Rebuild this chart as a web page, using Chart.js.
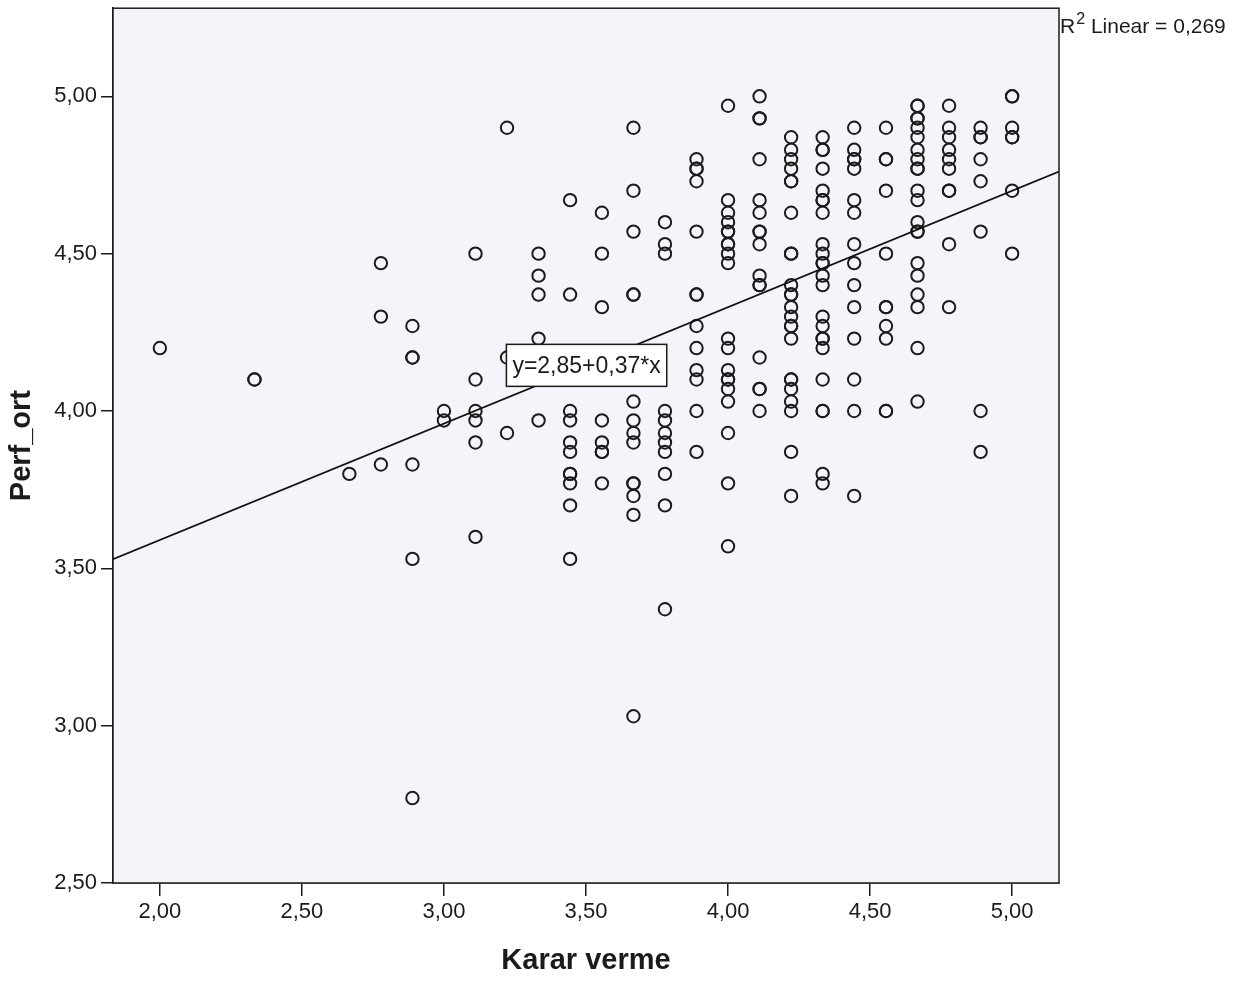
<!DOCTYPE html>
<html>
<head>
<meta charset="utf-8">
<script src="https://cdn.jsdelivr.net/npm/chart.js@4"></script>
<style>
  html, body { margin: 0; padding: 0; background: #fff; }
  #wrap { width: 1248px; height: 981px; }
</style>
</head>
<body>
<div id="wrap"><canvas id="scatter" width="1248" height="981"></canvas></div>
<script>
// Karar verme levels (x) and Perf_ort values (y) read per column
const karar = [2.000, 2.333, 2.667, 2.778, 2.889, 3.000, 3.111, 3.222, 3.333, 3.444, 3.556, 3.667,
               3.778, 3.889, 4.000, 4.111, 4.222, 4.333, 4.444, 4.556, 4.667, 4.778, 4.889, 5.000];
const perf = [
  [4.20],
  [4.10, 4.10],
  [3.80],
  [4.47, 4.30, 3.83],
  [4.27, 4.17, 4.17, 3.83, 3.53, 2.77],
  [4.00, 3.97],
  [4.50, 4.10, 4.00, 3.97, 3.90, 3.60],
  [4.90, 4.17, 3.93],
  [4.50, 4.43, 4.37, 4.23, 3.97],
  [4.67, 4.37, 4.00, 3.97, 3.90, 3.87, 3.80, 3.80, 3.77, 3.70, 3.53],
  [4.63, 4.50, 4.33, 3.97, 3.90, 3.87, 3.87, 3.77],
  [4.90, 4.70, 4.57, 4.37, 4.37, 4.03, 3.97, 3.93, 3.90, 3.77, 3.77, 3.73, 3.67, 3.03],
  [4.60, 4.53, 4.50, 4.00, 3.97, 3.93, 3.90, 3.87, 3.80, 3.70, 3.37],
  [4.80, 4.77, 4.77, 4.73, 4.57, 4.37, 4.37, 4.27, 4.20, 4.13, 4.10, 4.00, 3.87],
  [4.97, 4.67, 4.63, 4.60, 4.57, 4.57, 4.53, 4.53, 4.50, 4.47, 4.23, 4.20, 4.13, 4.10, 4.10, 4.07, 4.03, 3.93, 3.77, 3.57],
  [5.00, 4.93, 4.93, 4.80, 4.67, 4.63, 4.57, 4.57, 4.53, 4.43, 4.40, 4.40, 4.17, 4.07, 4.07, 4.00],
  [4.87, 4.83, 4.80, 4.77, 4.73, 4.73, 4.63, 4.50, 4.50, 4.40, 4.37, 4.37, 4.33, 4.30, 4.27, 4.27, 4.23, 4.10, 4.10, 4.07, 4.03, 4.00, 3.87, 3.73],
  [4.87, 4.83, 4.83, 4.77, 4.70, 4.67, 4.67, 4.63, 4.53, 4.50, 4.47, 4.47, 4.43, 4.40, 4.30, 4.27, 4.23, 4.23, 4.20, 4.10, 4.00, 4.00, 3.80, 3.77],
  [4.90, 4.83, 4.80, 4.80, 4.77, 4.67, 4.63, 4.53, 4.47, 4.40, 4.33, 4.23, 4.10, 4.00, 3.73],
  [4.90, 4.80, 4.80, 4.70, 4.50, 4.33, 4.33, 4.27, 4.23, 4.00, 4.00],
  [4.97, 4.97, 4.93, 4.93, 4.90, 4.87, 4.83, 4.80, 4.77, 4.77, 4.70, 4.67, 4.60, 4.57, 4.57, 4.47, 4.43, 4.37, 4.33, 4.20, 4.03],
  [4.97, 4.90, 4.87, 4.83, 4.80, 4.77, 4.70, 4.70, 4.53, 4.33],
  [4.90, 4.87, 4.87, 4.80, 4.73, 4.57, 4.00, 3.87],
  [5.00, 5.00, 4.90, 4.87, 4.87, 4.70, 4.50]
];

// fit line and axis settings
const intercept = 2.85;
const slope = 0.37;
const r2Text = '0,269';
const xTicks = [2.0, 2.5, 3.0, 3.5, 4.0, 4.5, 5.0];
const yTicks = [2.5, 3.0, 3.5, 4.0, 4.5, 5.0];
const xRange = [1.835, 5.165];
const yRange = [2.5, 5.28];

const points = [];
karar.forEach((k, i) => perf[i].forEach(p => points.push({x: k, y: p})));

const fitLine = xRange.map(x => ({x: x, y: intercept + slope * x}));

const FONT = '"Liberation Sans", Arial, sans-serif';
const INK = '#1b1b1b';
const comma = v => Number(v).toFixed(2).replace('.', ',');

const plotFrame = {
  id: 'plotFrame',
  beforeDatasetsDraw(chart) {
    const {ctx, chartArea: a} = chart;
    ctx.save();
    ctx.fillStyle = '#f5f4fa';
    ctx.fillRect(a.left, a.top, a.right - a.left, a.bottom - a.top);
    ctx.restore();
  },
  afterDraw(chart) {
    const {ctx, chartArea: a, scales} = chart;
    ctx.save();
    ctx.strokeStyle = INK;
    ctx.lineWidth = 1.5;
    ctx.strokeRect(a.left, a.top, a.right - a.left, a.bottom - a.top);

    // equation label box
    const eq = 'y=2,85+0,37*x';
    ctx.font = '23px ' + FONT;
    const tw = ctx.measureText(eq).width;
    const cx = scales.x.getPixelForValue(3.502);
    const cy = scales.y.getPixelForValue(4.145);
    const w = tw + 12, h = 42;
    ctx.fillStyle = '#ffffff';
    ctx.fillRect(cx - w / 2, cy - h / 2, w, h);
    ctx.strokeRect(cx - w / 2, cy - h / 2, w, h);
    ctx.fillStyle = INK;
    ctx.textAlign = 'center';
    ctx.textBaseline = 'middle';
    ctx.fillText(eq, cx, cy + 1);

    // R square note
    ctx.textAlign = 'left';
    ctx.textBaseline = 'alphabetic';
    let x = a.right + 1;
    const base = 33;
    ctx.font = '21px ' + FONT;
    ctx.fillText('R', x, base);
    x += ctx.measureText('R').width;
    ctx.font = '16px ' + FONT;
    ctx.fillText('2', x + 1, base - 9);
    x += ctx.measureText('2').width + 1;
    ctx.font = '21px ' + FONT;
    ctx.fillText(' Linear = ' + r2Text, x, base);
    ctx.restore();
  }
};

new Chart(document.getElementById('scatter'), {
  type: 'scatter',
  data: {
    datasets: [
      {
        data: points,
        pointStyle: 'circle',
        pointRadius: 6.2,
        pointHoverRadius: 6.2,
        borderWidth: 2,
        borderColor: INK,
        backgroundColor: 'rgba(0,0,0,0)',
        order: 2
      },
      {
        type: 'line',
        data: fitLine,
        borderColor: '#111',
        borderWidth: 1.8,
        pointRadius: 0,
        fill: false,
        order: 1
      }
    ]
  },
  options: {
    responsive: false,
    animation: false,
    events: [],
    layout: {padding: {left: 0, right: 189, top: 8, bottom: 0}},
    plugins: {legend: {display: false}, tooltip: {enabled: false}},
    scales: {
      x: {
        type: 'linear',
        min: xRange[0],
        max: xRange[1],
        afterBuildTicks: s => { s.ticks = xTicks.map(v => ({value: v})); },
        afterFit: s => { s.height = 98; s.paddingLeft = 0; s.paddingRight = 0; },
        grid: {drawOnChartArea: false, drawTicks: true, tickLength: 13, color: INK, lineWidth: 1.5},
        border: {color: INK, width: 1.5},
        ticks: {
          autoSkip: false, maxRotation: 0, padding: 3,
          color: INK, font: {family: FONT, size: 22},
          callback: v => comma(v)
        },
        title: {
          display: true, text: 'Karar verme', color: INK,
          font: {family: FONT, size: 29, weight: 'bold'},
          padding: {top: 0, bottom: 3}
        }
      },
      y: {
        type: 'linear',
        min: yRange[0],
        max: yRange[1],
        afterBuildTicks: s => { s.ticks = yTicks.map(v => ({value: v})); },
        afterFit: s => { s.width = 113; s.paddingTop = 0; s.paddingBottom = 0; },
        grid: {drawOnChartArea: false, drawTicks: true, tickLength: 12, color: INK, lineWidth: 1.5},
        border: {color: INK, width: 1.5},
        ticks: {
          autoSkip: false, padding: 4,
          color: INK, font: {family: FONT, size: 22},
          callback: v => comma(v)
        },
        title: {
          display: true, text: 'Perf_ort', color: INK,
          font: {family: FONT, size: 29, weight: 'bold'},
          padding: {top: 5, bottom: 0}
        }
      }
    }
  },
  plugins: [plotFrame]
});
</script>
</body>
</html>
